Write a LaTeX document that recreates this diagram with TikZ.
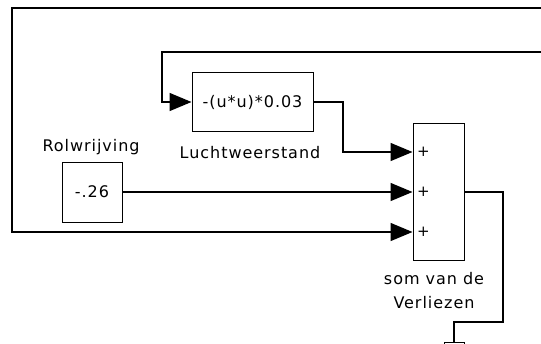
\documentclass[tikz,border=0pt]{standalone}
\usepackage{fontspec}
\setmainfont{DejaVu Sans}[LetterSpace=6]
\usetikzlibrary{arrows.meta}

\tikzset{
  blok/.style={draw, line width=1pt, inner sep=0pt},
  lijn/.style={line width=1.5pt},
  pijl/.style={lijn, -{Triangle[length=22pt,width=18pt]}},
  tekst/.style={inner sep=0pt, font=\fontsize{16}{24}\selectfont},
  plus/.style={inner sep=0pt, font=\fontsize{15}{15}\selectfont},
}

\begin{document}
\begin{tikzpicture}[x=1pt,y=-1pt]
    \useasboundingbox (0,0) rectangle (541,343);
    \clip (0,0) rectangle (541,343);

    % blokken
    \node[blok, tekst, minimum width=60pt, minimum height=60pt] (rol) at (92,192) {-.26};
    \node[blok, tekst, minimum width=121pt, minimum height=59pt] (lucht) at (252.5,102) {-(u*u)*0.03};
    \node[blok, minimum width=51pt, minimum height=137pt] (som) at (438.5,192) {};
    \node[blok, minimum width=20pt, minimum height=40pt] (volgend) at (454,362) {};

    \foreach \dy/\naam in {40/p1,0/p2,-40/p3}
      \node[plus] (\naam) at ([xshift=11pt,yshift=\dy pt]som.west) {+};

    % terugkoppelingen van rechts
    \coordinate (terug1) at (541,8);
    \coordinate (terug2) at (541,52);

    \draw[pijl] (terug1) -| (12,232) -- ([yshift=-40pt]som.west);
    \draw[pijl] (terug2) -| (162,102) -- (lucht.west);
    \draw[pijl] (lucht.east) -- (343,102) |- ([yshift=40pt]som.west);
    \draw[pijl] (rol.east) -- (som.west);
    \draw[lijn] (som.east) -- (503,192) |- (454,322) -- (volgend.north);

    \node[tekst] (rollabel) at (91,147) {Rolwrijving};
    \node[tekst] (luchtlabel) at (250,153) {Luchtweerstand};
    \node[tekst, align=center] (somlabel) at (434,291) {som van de\\Verliezen};

  \end{tikzpicture}
\end{document}
